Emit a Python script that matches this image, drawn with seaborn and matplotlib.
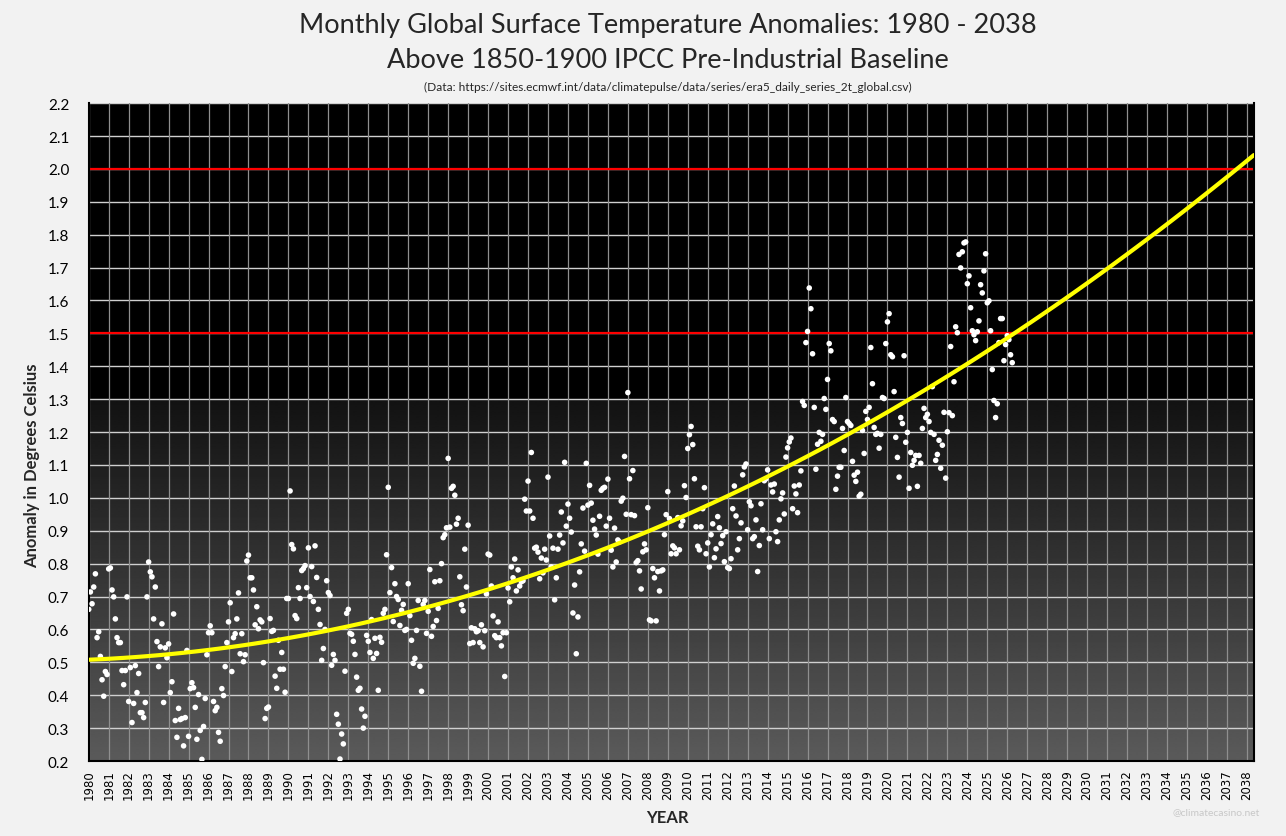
import numpy as np
import pandas as pd
import matplotlib
matplotlib.use("Agg")
import matplotlib.pyplot as plt
import seaborn as sns

# ---------------- data ----------------
y1980 = [0.661, 0.714, 0.678, 0.729, 0.769, 0.575, 0.593, 0.518, 0.447, 0.397, 0.472, 0.463]
y1981 = [0.784, 0.787, 0.720, 0.699, 0.632, 0.575, 0.560, 0.560, 0.475, 0.432, 0.475, 0.699]
y1982 = [0.381, 0.484, 0.317, 0.375, 0.490, 0.408, 0.466, 0.347, 0.347, 0.332, 0.378, 0.699]
y1983 = [0.805, 0.775, 0.760, 0.632, 0.729, 0.563, 0.487, 0.547, 0.617, 0.378, 0.544, 0.514]
y1984 = [0.556, 0.408, 0.441, 0.647, 0.323, 0.272, 0.360, 0.326, 0.329, 0.246, 0.332, 0.536]
y1985 = [0.275, 0.420, 0.438, 0.423, 0.363, 0.266, 0.402, 0.293, 0.205, 0.305, 0.390, 0.523]
y1986 = [0.590, 0.611, 0.590, 0.381, 0.353, 0.363, 0.287, 0.260, 0.420, 0.399, 0.487, 0.560]
y1987 = [0.623, 0.681, 0.472, 0.575, 0.587, 0.632, 0.711, 0.526, 0.587, 0.502, 0.523, 0.808]
y1988 = [0.826, 0.757, 0.757, 0.720, 0.614, 0.669, 0.602, 0.629, 0.623, 0.499, 0.329, 0.360]
y1989 = [0.364, 0.633, 0.594, 0.597, 0.458, 0.421, 0.567, 0.479, 0.530, 0.479, 0.409, 0.694]
y1990 = [0.694, 1.021, 0.858, 0.845, 0.642, 0.633, 0.727, 0.694, 0.779, 0.785, 0.794, 0.727]
y1991 = [0.848, 0.700, 0.791, 0.685, 0.854, 0.758, 0.661, 0.615, 0.506, 0.542, 0.600, 0.748]
y1992 = [0.712, 0.703, 0.491, 0.524, 0.506, 0.342, 0.312, 0.206, 0.282, 0.252, 0.473, 0.649]
y1993 = [0.661, 0.588, 0.585, 0.564, 0.524, 0.455, 0.415, 0.421, 0.358, 0.300, 0.336, 0.582]
y1994 = [0.564, 0.530, 0.630, 0.512, 0.573, 0.527, 0.415, 0.576, 0.561, 0.649, 0.661, 0.827]
y1995 = [1.032, 0.712, 0.788, 0.624, 0.739, 0.700, 0.691, 0.612, 0.658, 0.676, 0.597, 0.600]
y1996 = [0.739, 0.642, 0.567, 0.497, 0.512, 0.597, 0.688, 0.488, 0.412, 0.676, 0.688, 0.588]
y1997 = [0.655, 0.782, 0.579, 0.609, 0.745, 0.627, 0.664, 0.748, 0.800, 0.879, 0.888, 0.909]
y1998 = [1.120, 0.911, 1.029, 1.035, 1.008, 0.920, 0.938, 0.760, 0.675, 0.657, 0.844, 0.729]
y1999 = [0.917, 0.557, 0.605, 0.560, 0.602, 0.593, 0.596, 0.560, 0.614, 0.547, 0.596, 0.708]
y2000 = [0.829, 0.826, 0.732, 0.641, 0.581, 0.575, 0.623, 0.575, 0.550, 0.590, 0.457, 0.590]
y2001 = [0.726, 0.684, 0.790, 0.757, 0.814, 0.717, 0.781, 0.732, 0.745, 0.748, 0.996, 0.960]
y2002 = [1.051, 0.960, 1.138, 0.938, 0.847, 0.850, 0.835, 0.754, 0.817, 0.772, 0.844, 0.811]
y2003 = [1.063, 0.884, 0.790, 0.847, 0.690, 0.757, 0.844, 0.887, 0.957, 0.863, 1.108, 0.914]
y2004 = [0.981, 0.938, 0.896, 0.650, 0.735, 0.526, 0.638, 0.775, 0.860, 0.969, 0.838, 1.105]
y2005 = [0.978, 1.038, 0.984, 0.932, 0.905, 0.887, 0.829, 0.944, 1.023, 1.029, 1.032, 0.914]
y2006 = [1.057, 0.938, 0.841, 0.790, 0.908, 0.805, 0.872, 0.866, 0.990, 0.999, 1.126, 0.950]
y2007 = [1.320, 1.058, 0.949, 1.083, 0.946, 0.803, 0.809, 0.778, 0.723, 0.836, 0.860, 0.842]
y2008 = [0.970, 0.629, 0.626, 0.785, 0.757, 0.626, 0.776, 0.717, 0.778, 0.781, 0.888, 0.949]
y2009 = [1.019, 0.937, 0.830, 0.854, 0.848, 0.830, 0.940, 0.842, 0.915, 0.930, 1.037, 1.001]
y2010 = [1.150, 1.192, 1.217, 1.162, 1.058, 0.912, 0.853, 0.842, 0.912, 0.967, 1.031, 0.830]
y2011 = [0.863, 0.790, 0.888, 0.921, 0.818, 0.845, 0.943, 0.909, 0.861, 0.885, 0.806, 0.897]
y2012 = [0.788, 0.785, 0.815, 0.967, 1.036, 0.945, 0.842, 0.876, 0.924, 1.070, 1.094, 1.103]
y2013 = [0.903, 0.988, 0.976, 0.876, 0.882, 0.933, 0.776, 0.855, 0.982, 0.903, 1.052, 1.058]
y2014 = [1.085, 0.876, 1.039, 1.018, 1.042, 0.897, 0.867, 0.933, 0.997, 1.015, 0.951, 1.124]
y2015 = [1.152, 1.170, 1.182, 0.967, 1.036, 1.012, 0.955, 1.039, 1.082, 1.293, 1.281, 1.472]
y2016 = [1.506, 1.638, 1.575, 1.438, 1.275, 1.087, 1.163, 1.199, 1.172, 1.193, 1.302, 1.269]
y2017 = [1.360, 1.469, 1.447, 1.238, 1.232, 1.026, 1.066, 1.093, 1.093, 1.211, 1.144, 1.305]
y2018 = [1.232, 1.226, 1.220, 1.111, 1.069, 1.050, 1.078, 1.005, 1.011, 1.205, 1.135, 1.263]
y2019 = [1.238, 1.275, 1.457, 1.347, 1.214, 1.193, 1.196, 1.151, 1.193, 1.305, 1.302, 1.469]
y2020 = [1.535, 1.560, 1.435, 1.429, 1.323, 1.184, 1.123, 1.063, 1.244, 1.226, 1.432, 1.169]
y2021 = [1.199, 1.029, 1.138, 1.099, 1.114, 1.129, 1.035, 1.129, 1.105, 1.211, 1.272, 1.244]
y2022 = [1.254, 1.232, 1.199, 1.338, 1.193, 1.114, 1.132, 1.175, 1.090, 1.160, 1.260, 1.060]
y2023 = [1.201, 1.259, 1.460, 1.250, 1.353, 1.520, 1.502, 1.740, 1.699, 1.748, 1.775, 1.778]
y2024 = [1.651, 1.675, 1.578, 1.508, 1.496, 1.478, 1.505, 1.538, 1.648, 1.623, 1.690, 1.742]
y2025 = [1.593, 1.599, 1.508, 1.390, 1.296, 1.244, 1.286, 1.472, 1.545, 1.545, 1.417, 1.466]
y2026 = [1.493, 1.481, 1.435, 1.411]

start_year = 1980
tick_years = list(range(1980, 2039))
thresholds = [1.5, 2.0]

title_line1 = "Monthly Global Surface Temperature Anomalies: 1980 - 2038"
title_line2 = "Above 1850-1900 IPCC Pre-Industrial Baseline"
subtitle = "(Data: https://sites.ecmwf.int/data/climatepulse/data/series/era5_daily_series_2t_global.csv)"
ylabel = "Anomaly in Degrees Celsius"
xlabel = "YEAR"
watermark = "@climatecasino.net"

# ---------------- build table ----------------
yearly = [y1980, y1981, y1982, y1983, y1984, y1985, y1986, y1987, y1988, y1989,
          y1990, y1991, y1992, y1993, y1994, y1995, y1996, y1997, y1998, y1999,
          y2000, y2001, y2002, y2003, y2004, y2005, y2006, y2007, y2008, y2009,
          y2010, y2011, y2012, y2013, y2014, y2015, y2016, y2017, y2018, y2019,
          y2020, y2021, y2022, y2023, y2024, y2025, y2026]
rows = []
for i, vals in enumerate(yearly):
    for m, v in enumerate(vals):
        rows.append({"time": start_year + i + m / 12.0, "anomaly": v})
df = pd.DataFrame(rows)

# ---------------- figure ----------------
sns.set_style("white")
plt.rcParams["font.family"] = ["Lato", "DejaVu Sans"]

W, H = 1286, 837
fig = plt.figure(figsize=(W / 100, H / 100), dpi=100, facecolor="#f2f2f2")
ax = fig.add_axes([0.069, 0.0896, 0.906, 0.786])
ax.set_facecolor("black")

xmin, xmax = 1980.0, 2038.35
ymin, ymax = 0.2, 2.2
ax.set_xlim(xmin, xmax)
ax.set_ylim(ymin, ymax)

# background gradient: black on top, grey at bottom
n = 400
vals = np.linspace(ymax, ymin, n)
shade = np.where(vals > 1.3, 0.0, 0.07 + (1.3 - vals) / (1.3 - ymin) * (0.355 - 0.07))
grad = np.repeat(shade[:, None], 2, axis=1)
ax.imshow(grad, extent=[xmin, xmax, ymin, ymax], aspect="auto", cmap="gray",
          vmin=0, vmax=1, zorder=0, interpolation="bilinear")

# grid
for yv in np.arange(0.2, 2.21, 0.1):
    ax.axhline(yv, color="#d0d0d0", lw=1.0, zorder=1)
for xv in tick_years:
    ax.axvline(xv, color="#8f8f8f", lw=0.9, zorder=1)
for t in thresholds:
    ax.axhline(t, color="#ff0000", lw=1.6, zorder=2)

# scatter + quadratic trend extended to the axis edge
sns.scatterplot(data=df, x="time", y="anomaly", ax=ax, color="white", s=16,
                edgecolor="none", linewidth=0, zorder=4)
sns.regplot(data=df, x="time", y="anomaly", ax=ax, order=2, ci=None,
            scatter=False, truncate=False,
            line_kws={"color": "#ffff00", "lw": 3.0, "zorder": 5})
ax.set_xlim(xmin, xmax)
ax.set_ylim(ymin, ymax)

# ticks
ax.set_xticks(tick_years)
ax.set_xticklabels([str(y) for y in tick_years], rotation=90, fontsize=8.5,
                   family=["DejaVu Sans"])
yt = np.round(np.arange(0.2, 2.21, 0.1), 1)
ax.set_yticks(yt)
ax.set_yticklabels([f"{v:.1f}" for v in yt], fontsize=11)
ax.tick_params(axis="x", length=0, pad=6, colors="black")
ax.tick_params(axis="y", length=0, pad=14, colors="black")

for s in ax.spines.values():
    s.set_visible(True)
    s.set_color("black")
    s.set_linewidth(1.5)
ax.spines["top"].set_visible(False)

ax.set_xlabel("")
ax.set_ylabel("")
fig.text(667 / W, 1 - 818 / H, xlabel, ha="center", va="center",
         fontsize=12, fontweight="bold")
fig.text(32 / W, 1 - 466 / H, ylabel, ha="center", va="center", rotation=90,
         fontsize=12, fontweight="bold")

cx = 668 / W
fig.text(cx, 1 - 25 / H, title_line1, ha="center", va="center", fontsize=19.5)
fig.text(cx, 1 - 61 / H, title_line2, ha="center", va="center", fontsize=19.5)
fig.text(cx, 1 - 87 / H, subtitle, ha="center", va="center", fontsize=8.6)
fig.text(1 - 26 / W, 1 - 813 / H, watermark, ha="right", va="center",
         fontsize=7.5, color="#c8c8c8")

fig.savefig("out.png", dpi=100, facecolor=fig.get_facecolor())
